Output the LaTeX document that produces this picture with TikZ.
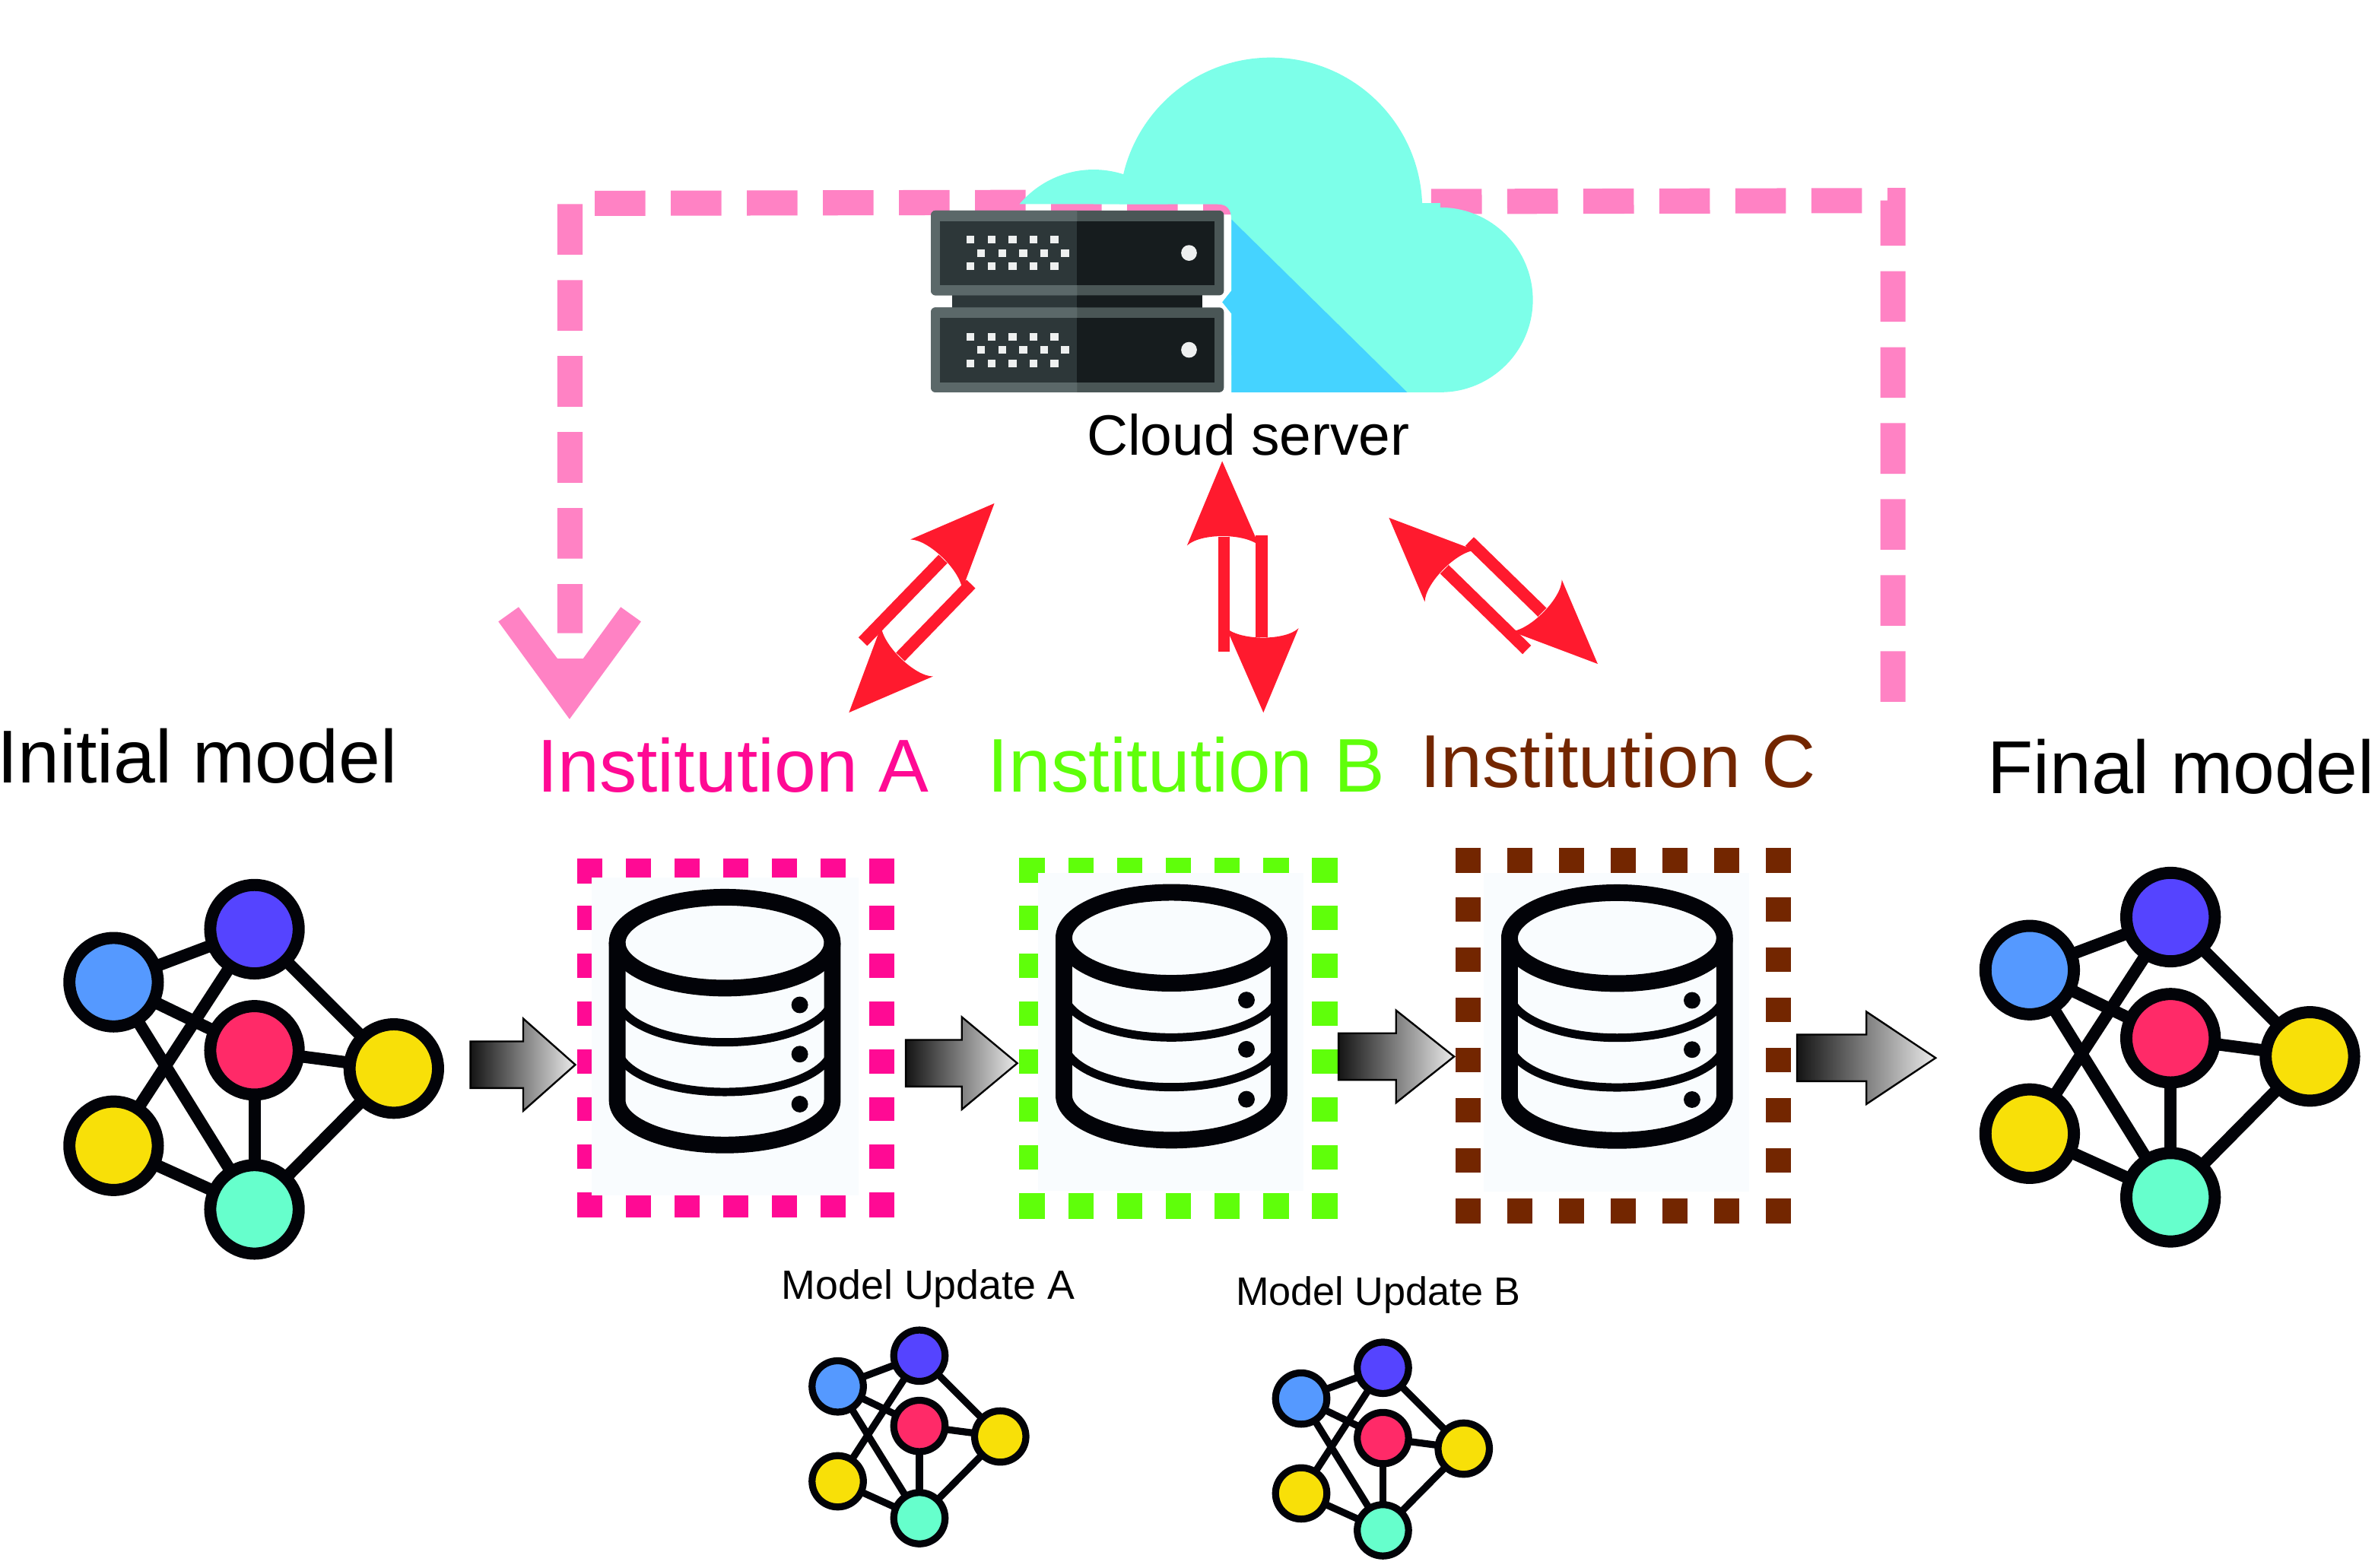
\documentclass[tikz,border=0pt]{standalone}
\usepackage{fontspec}
\setmainfont{Liberation Sans}
\usepackage{tikz}
\definecolor{netblue}{HTML}{5599FF}
\definecolor{netpurple}{HTML}{5544FF}
\definecolor{netred}{HTML}{FF2A68}
\definecolor{netyellow}{HTML}{F8E008}
\definecolor{netteal}{HTML}{66FFCC}
\definecolor{cloudlight}{HTML}{7DFFE9}
\definecolor{cloudblue}{HTML}{45D3FF}
\definecolor{linkred}{HTML}{FF1A2E}
\definecolor{looppink}{HTML}{FF82C4}
\definecolor{instA}{HTML}{FF0A94}
\definecolor{instB}{HTML}{5FFF0A}
\definecolor{instC}{HTML}{732600}
\definecolor{storebg}{HTML}{F9FCFE}
\definecolor{inkblack}{HTML}{020308}
\definecolor{rackleft}{HTML}{5B6869}
\definecolor{rackright}{HTML}{4A5656}
\definecolor{panelleft}{HTML}{2D3739}
\definecolor{panelright}{HTML}{161C1E}
\definecolor{rackdot}{HTML}{EEF0F0}
\tikzset{
  netnode/.style={circle,draw=inkblack,inner sep=0pt,outer sep=0pt},
  lbl/.style={anchor=base west,inner sep=0pt,outer sep=0pt},
  bigtext/.style={lbl,font=\fontsize{49.5}{54}\selectfont},
  twoway/.pic={
    \fill[linkred] (-13.6,-83) -- (-36.8,-27.3)
      .. controls (-28,-35.6) and (1,-35.6) .. (10.8,-27.3) -- cycle;
    \fill[linkred,rotate=180] (-13.6,-83) -- (-36.8,-27.3)
      .. controls (-28,-35.6) and (1,-35.6) .. (10.8,-27.3) -- cycle;
    \fill[linkred] (-16.4,-33) rectangle (-8.4,43);
    \fill[linkred] (8.4,-34) rectangle (16.4,33);
  }
}
% name, x and y of the middle node, scale
\newcommand{\netmodel}[4]{
  \foreach \nm/\dx/\dy/\clr in {bl/-93/-45/netblue,pu/0/-80/netpurple,
    re/0/0/netred,yr/92/12/netyellow,yl/-93/63/netyellow,te/0/105/netteal}
    \node[netnode,fill=\clr,minimum size=#4*58.4pt,line width=#4*8pt]
      (#1\nm) at ({#2+#4*\dx},{#3+#4*\dy}) {};
  \foreach \p/\q in {bl/pu,bl/re,bl/te,pu/yl,pu/yr,re/yr,re/te,yl/te,te/yr}
    \draw[inkblack,line width=#4*8pt] (#1\p) -- (#1\q);
}
\begin{document}
\begin{tikzpicture}[x=1pt,y=-1pt]
  \useasboundingbox (0,0) rectangle (1568,1035.2);
  % feedback loop
  \coordinate (loopstart) at (1249.7,463.4);
  \coordinate (loopright) at (1249.7,132.4);
  \coordinate (loopleft) at (376.3,134.3);
  \coordinate (loopend) at (376.3,418);
  \draw[looppink,line width=16.6pt,dash pattern=on 33.4pt off 16.8pt]
    (loopstart) -- (loopright) -- (loopleft) -- (loopend);
  \fill[looppink] (329,410.4) -- (342.4,400.8) -- (368,434.8) -- (385,434.8)
    -- (409.8,400.8) -- (423.2,410.4) -- (376,474.8) -- cycle;
  % cloud
  \begin{scope}
    \clip (600,20) -- (1100,20) -- (1100,259) -- (813,259) -- (813,207)
      -- (807,199.5) -- (813,192) -- (813,145)
      .. controls (813,138) and (810,134.8) .. (804,134.8) -- (600,134.8) -- cycle;
    \fill[cloudlight] (839,138) circle (100);
    \fill[cloudlight] (722,176) circle (64);
    \fill[cloudlight] (951,198) circle (61);
    \fill[cloudlight] (722,134) rectangle (951,259);
    \fill[cloudblue] (805,137) -- (929,259) -- (805,259) -- cycle;
  \end{scope}
  % server
  \fill[panelleft] (628.4,190) rectangle (711.1,208);
  \fill[panelright] (711.1,190) rectangle (794,208);
  \foreach \yo in {139,203}{
    \fill[rackright,rounded corners=3] (614.6,\yo) rectangle (808,\yo+56);
    \begin{scope}
      \clip (600,\yo) rectangle (711.1,\yo+56);
      \fill[rackleft,rounded corners=3] (614.6,\yo) rectangle (808,\yo+56);
    \end{scope}
    \fill[panelleft] (620.6,\yo+7) rectangle (711.1,\yo+49.5);
    \fill[panelright] (711.1,\yo+7) rectangle (801.9,\yo+49.5);
    \foreach \rw/\off in {0/0,1/7,2/0}
      \foreach \cl in {0,...,4}
        \fill[rackdot] ({638.2+\off+13.85*\cl},{\yo+16.8+8.75*\rw}) rectangle ++(5.2,5);
    \fill[rackdot] (785,\yo+28) circle (5.2);
  }
  % institutions
  \foreach \clr/\xl/\yt/\xr/\yb/\bgl/\bgt/\bgr/\bgb/\cx/\ct in {
    instA/381/566.7/590.4/804/390.7/579.3/566.6/789.4/478.5/587,
    instB/673/566.4/883/804.6/685.2/576.2/860.7/786.2/773.4/583.8,
    instC/961/559.6/1182.3/807.9/979.6/576.6/1154.9/787/1067.6/584}{
    \pgfmathsetmacro{\px}{(\xr-\xl-16.7)/6}
    \pgfmathsetmacro{\py}{(\yb-\yt-16.7)/7}
    \foreach \i in {0,...,6}{
      \fill[\clr] ({\xl+\i*\px},\yt) rectangle ++(16.7,16.7);
      \fill[\clr] ({\xl+\i*\px},\yb-16.7) rectangle ++(16.7,16.7);
    }
    \foreach \j in {1,...,6}{
      \fill[\clr] (\xl,{\yt+\j*\py}) rectangle ++(16.7,16);
      \fill[\clr] (\xr-16.7,{\yt+\j*\py}) rectangle ++(16.7,16);
    }
    \fill[storebg] (\bgl,\bgt) rectangle (\bgr,\bgb);
    % database
    \begin{scope}[shift={(\cx,\ct)}]
      \draw[inkblack,line width=11pt] (0,35.4) ellipse [x radius=71,y radius=30];
      \draw[inkblack,line width=11pt] (-71,35.4) -- (-71,139.5)
        arc [start angle=180,end angle=0,x radius=71,y radius=29.5] -- (71,35.4);
      \foreach \ya in {71.2,104}
        \draw[inkblack,line width=5.5pt] (-71,\ya)
          arc [start angle=180,end angle=0,x radius=71,y radius=30];
      \foreach \ya in {76.5,109,142}
        \fill[inkblack] (49.5,\ya) circle (5.5);
    \end{scope}
  }
  % arrows between the steps
  \foreach \xa/\xb/\xc/\cy in {310.6/345.4/379.8/703,598/635/671.6/702,
    883.7/921.7/960/697.6,1186.4/1232.2/1277.9/698.5}
    \shadedraw[draw=black,line width=1.2pt,left color=black!92,right color=black!8]
      (\xa,\cy-15.4) -- (\xb,\cy-15.4) -- (\xb,\cy-30.5) -- (\xc,\cy)
      -- (\xb,\cy+30.5) -- (\xb,\cy+15.4) -- (\xa,\cy+15.4) -- cycle;
  % models
  \netmodel{ini}{168}{693.5}{1}
  \netmodel{fin}{1433}{685.5}{1}
  \netmodel{upa}{607}{941.5}{.58}
  \netmodel{upb}{913}{949.5}{.58}
  % links to the cloud
  \pic[rotate=-44.1] at (608.5,401.4) {twoway};
  \pic at (820.5,387.5) {twoway};
  \pic[rotate=45.7] at (985.9,390.1) {twoway};
  % labels
  \node[bigtext] (initial) at (-2,517) {Initial model};
  \node[bigtext] (final) at (1312,524) {Final model};
  \node[bigtext,text=instA] (labA) at (354.5,523) {Institution A};
  \node[lbl,font=\fontsize{50.2}{54}\selectfont,text=instB] (labB) at (652,523) {Institution B};
  \node[bigtext,text=instC] (labC) at (937.5,520) {Institution C};
  \node[lbl,font=\fontsize{37.6}{42}\selectfont] (cloud) at (717.5,300.5) {Cloud server};
  \node[lbl,font=\fontsize{27}{30}\selectfont] (updA) at (516,858) {Model Update A};
  \node[lbl,font=\fontsize{26.2}{30}\selectfont] (updB) at (816,862) {Model Update B};
\end{tikzpicture}
\end{document}
